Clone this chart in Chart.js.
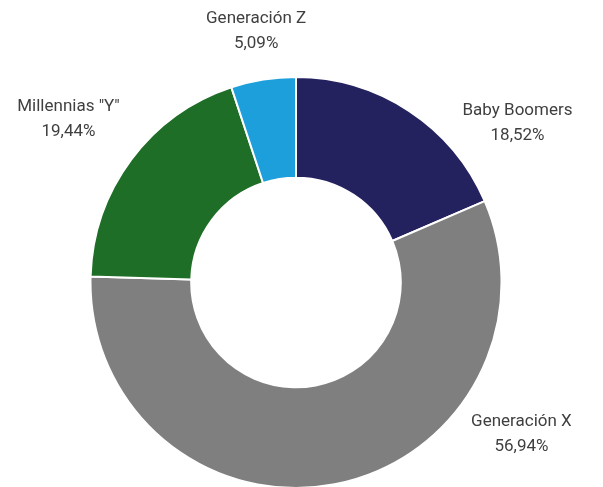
<!DOCTYPE html>
<html>
<head>
<meta charset="utf-8">
<script src="https://cdn.jsdelivr.net/npm/chart.js@4/dist/chart.umd.min.js"></script>
<style>
  html, body { margin: 0; padding: 0; background: #fff; overflow: hidden; }
  #caja { position: relative; width: 603px; height: 489px; }
</style>
</head>
<body>
<div id="caja"><canvas id="grafico"></canvas></div>
<script>
// datos del gráfico (porcentajes por generación)
const generaciones = ['Baby Boomers', 'Generación X', 'Millennias "Y"', 'Generación Z'];
const porcentajes = [18.52, 56.94, 19.44, 5.09];
const colores = ['#24215f', '#7f7f7f', '#1f6e27', '#1c9fdb'];

// donde va cada etiqueta, en radios desde el centro del anillo
const posEtiquetas = [[1.078, -0.777], [1.097, 0.738], [-1.107, -0.796], [-0.194, -1.223]];

const etiquetasPlugin = {
  id: 'etiquetas',
  afterDraw(chart) {
    const arco = chart.getDatasetMeta(0).data[0];
    if (!arco) return;
    const { x, y, outerRadius } = arco;
    const ctx = chart.ctx;
    ctx.save();
    ctx.fillStyle = '#3f3f3f';
    ctx.font = '17px Roboto, "Liberation Sans", Arial, sans-serif';
    ctx.textAlign = 'center';
    ctx.textBaseline = 'middle';
    generaciones.forEach((g, i) => {
      const px = x + posEtiquetas[i][0] * outerRadius;
      const py = y + posEtiquetas[i][1] * outerRadius;
      const txt = porcentajes[i].toFixed(2).replace('.', ',') + '%';
      ctx.fillText(g, px, py - 12.5);
      ctx.fillText(txt, px, py + 12.5);
    });
    ctx.restore();
  }
};

new Chart(document.getElementById('grafico'), {
  type: 'doughnut',
  data: {
    labels: generaciones,
    datasets: [{
      data: porcentajes,
      backgroundColor: colores,
      borderColor: '#ffffff',
      borderWidth: 2
    }]
  },
  options: {
    responsive: true,
    maintainAspectRatio: false,
    animation: false,
    cutout: '51%',
    layout: { padding: { top: 76, bottom: 0, left: 0, right: 11 } },
    plugins: {
      legend: { display: false },
      tooltip: { enabled: false }
    }
  },
  plugins: [etiquetasPlugin]
});
</script>
</body>
</html>
